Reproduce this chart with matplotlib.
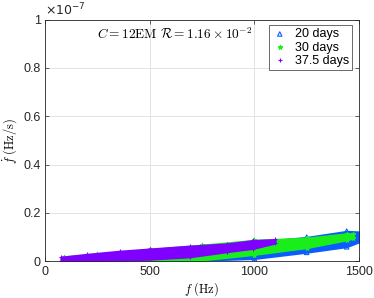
import matplotlib
matplotlib.use("Agg")
import matplotlib.pyplot as plt
import numpy as np

# ---- data (fdot in units of 1e-7 Hz/s) ----
f_20 = [100, 250, 500, 750, 1000, 1250, 1441, 1513]
lo_20 = [0.000, 0.000, 0.002, 0.004, 0.011, 0.037, 0.060, 0.084]
hi_20 = [0.010, 0.020, 0.040, 0.060, 0.080, 0.100, 0.125, 0.122]

f_30 = [90, 250, 500, 750, 1000, 1250, 1441, 1470]
lo_30 = [0.000, 0.001, 0.002, 0.005, 0.028, 0.056, 0.088, 0.095]
hi_30 = [0.020, 0.030, 0.050, 0.068, 0.088, 0.097, 0.115, 0.115]

f_37 = [75, 200, 358, 500, 693, 868, 995, 1100]
lo_37 = [0.000, 0.001, 0.004, 0.008, 0.018, 0.039, 0.053, 0.075]
hi_37 = [0.018, 0.030, 0.043, 0.052, 0.064, 0.073, 0.087, 0.091]

series = [
    ("20 days", f_20, lo_20, hi_20, "#0a5cff", "^"),
    ("30 days", f_30, lo_30, hi_30, "#1aee1a", "*"),
    ("37.5 days", f_37, lo_37, hi_37, "#7f00ff", "+"),
]

xticks = [0, 500, 1000, 1500]
yticks = [0, 0.2, 0.4, 0.6, 0.8, 1]
ytick_labels = ["0", "0.2", "0.4", "0.6", "0.8", "1"]

plt.rcParams["font.family"] = ["Liberation Sans", "DejaVu Sans"]
plt.rcParams["mathtext.fontset"] = "cm"

fig = plt.figure(figsize=(3.74, 2.98), dpi=100)
ax = fig.add_axes([0.1203, 0.123, 0.8397, 0.8113])

scale = 1e-7
for label, f, lo, hi, col, mk in series:
    lo_v = np.array(lo) * scale
    hi_v = np.array(hi) * scale
    ax.fill_between(f, lo_v, hi_v, color=col, lw=1.2, edgecolor=col, zorder=2)
    ax.scatter(list(f) + list(f), list(lo_v) + list(hi_v), marker=mk, s=10,
               color=col if mk != "^" else "none", edgecolors=col,
               linewidths=0.8, zorder=2, label=label)

ax.set_xlim(0, 1500)
ax.set_ylim(0, 1e-7)
ax.set_xticks(xticks)
ax.set_yticks([v * scale for v in yticks])
ax.set_yticklabels(ytick_labels)
ax.tick_params(direction="in", length=3, width=0.5, labelsize=9, top=True, right=True,
               colors="#262626", pad=3)
ax.grid(True, color="#e3e3e3", lw=0.7)
ax.set_axisbelow(True)
for s in ax.spines.values():
    s.set_color("#262626")
    s.set_linewidth(0.6)

ax.text(0, 1.005, r"$\times10^{-7}$", transform=ax.transAxes, fontsize=9,
        ha="left", va="bottom", math_fontfamily="dejavusans", color="#262626")

ax.set_xlabel(r"$f\ (\mathrm{Hz})$", fontsize=9, labelpad=2)
ax.set_ylabel(r"$\dot{f}\ (\mathrm{Hz/s})$", fontsize=9, labelpad=3)

ax.text(0.166, 0.94, r"$C = 12\mathrm{EM}\ \mathcal{R} = 1.16\times10^{-2}$",
        transform=ax.transAxes, fontsize=9.6, ha="left", va="center")

leg = ax.legend(loc="upper right", bbox_to_anchor=(0.978, 0.977), borderaxespad=0,
                fontsize=9, frameon=True, fancybox=False, edgecolor="#262626",
                handlelength=1.2, handletextpad=0.6, borderpad=0.25, labelspacing=0.1,
                scatterpoints=1)
leg.get_frame().set_linewidth(0.6)

fig.savefig("out.png", dpi=100)
